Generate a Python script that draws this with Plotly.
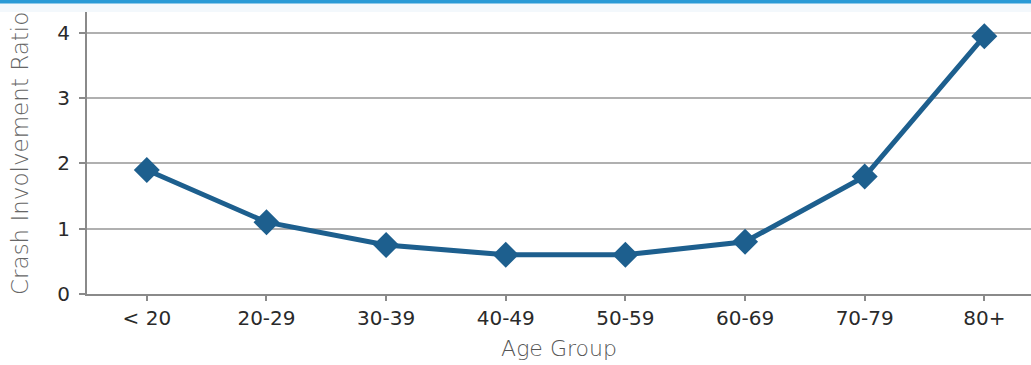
import plotly.graph_objects as go

age_groups = ["< 20", "20-29", "30-39", "40-49", "50-59", "60-69", "70-79", "80+"]
crash_ratio = [1.9, 1.1, 0.75, 0.6, 0.6, 0.8, 1.8, 3.95]
y_ticks = [0, 1, 2, 3, 4]

FONT = "'DejaVu Sans', sans-serif"
LINE_BLUE = "#1d5f8e"

fig = go.Figure()
fig.add_trace(go.Scatter(
    x=list(range(len(age_groups))),
    y=crash_ratio,
    mode="lines+markers",
    line=dict(color=LINE_BLUE, width=5),
    marker=dict(symbol="diamond", size=20, color=LINE_BLUE),
    showlegend=False,
))

# header strip across the top
fig.add_shape(type="rect", xref="paper", yref="paper",
              x0=-0.1, x1=1.0, y0=1.0, y1=1.06,
              fillcolor="#f3f8fc", line=dict(width=0), layer="below")
fig.add_shape(type="rect", xref="paper", yref="paper",
              x0=-0.1, x1=1.0, y0=1.03, y1=1.06,
              fillcolor="#2a9ad6", line=dict(width=0))

# vertical axis title, placed near the left edge
fig.add_annotation(
    text="Crash Involvement Ratio", textangle=-90,
    xref="paper", yref="paper", x=-0.071, y=0.5,
    xanchor="center", yanchor="middle", showarrow=False,
    font=dict(size=23, color="#666666", weight=300),
)

fig.update_layout(
    width=1031, height=365,
    margin=dict(l=87, r=0, t=12, b=71),
    paper_bgcolor="white", plot_bgcolor="white",
    font=dict(family=FONT, color="#2a2a2a", size=20),
    xaxis=dict(
        range=[-0.5, 7.39],
        tickmode="array",
        tickvals=list(range(len(age_groups))),
        ticktext=age_groups,
        tickson="boundaries",
        ticks="outside", ticklen=5, tickwidth=2, tickcolor="#8a8a8a",
        showline=True, linecolor="#8a8a8a", linewidth=2,
        showgrid=False, zeroline=False,
        tickfont=dict(size=20, color="#2a2a2a"),
        title=dict(text="Age Group", font=dict(size=22, color="#555555", weight=300), standoff=12),
    ),
    yaxis=dict(
        range=[0, 4.32],
        tickmode="array", tickvals=y_ticks,
        ticks="outside", ticklen=6, tickwidth=2, tickcolor="#8a8a8a",
        showline=True, linecolor="#8a8a8a", linewidth=2,
        showgrid=True, gridcolor="#b0b0b0", gridwidth=2,
        zeroline=False, ticklabelstandoff=5,
        tickfont=dict(size=20, color="#2a2a2a"),
    ),
)

fig.write_html("out.html")
